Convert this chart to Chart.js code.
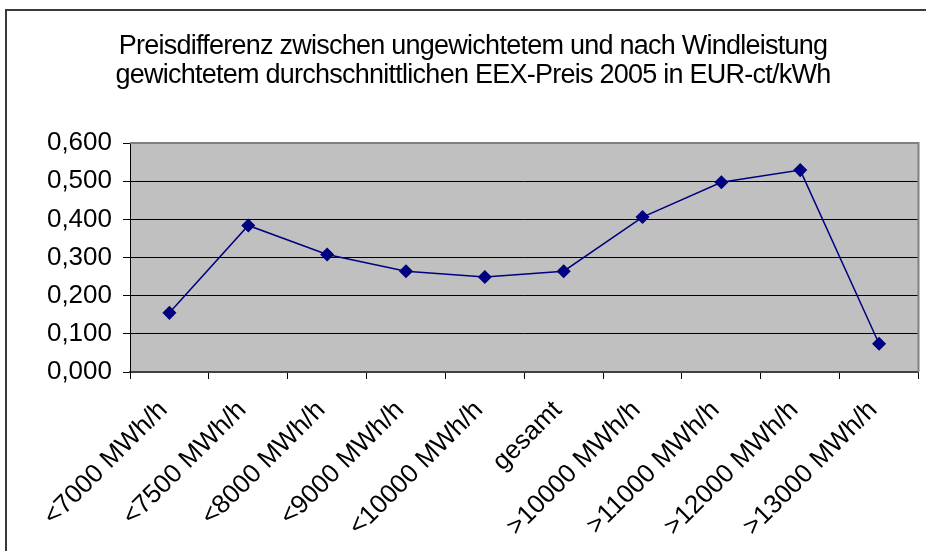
<!DOCTYPE html>
<html>
<head>
<meta charset="utf-8">
<title>EEX-Preisdifferenz 2005</title>
<script src="https://cdn.jsdelivr.net/npm/chart.js@4.4.0/dist/chart.umd.min.js"></script>
<style>
    html, body { margin: 0; padding: 0; background: #ffffff; }
    #wrap { width: 926px; height: 551px; position: relative; }
</style>
</head>
<body>
<div id="wrap"><canvas id="chart"></canvas></div>
<script>
// Chart data
const titleLines = [
    'Preisdifferenz zwischen ungewichtetem und nach Windleistung',
    'gewichtetem durchschnittlichen EEX-Preis 2005 in EUR-ct/kWh'
];
const categories = [
    '<7000 MWh/h', '<7500 MWh/h', '<8000 MWh/h', '<9000 MWh/h', '<10000 MWh/h',
    'gesamt', '>10000 MWh/h', '>11000 MWh/h', '>12000 MWh/h', '>13000 MWh/h'
];
const priceDiff = [0.155, 0.384, 0.308, 0.264, 0.249, 0.264, 0.406, 0.497, 0.529, 0.074];
const yTicks = [0, 0.1, 0.2, 0.3, 0.4, 0.5, 0.6];

const fontFamily = '"Liberation Sans", Arial, sans-serif';

// grey plot background, grey frame and the outer chart frame
const framePlugin = {
    id: 'frame',
    beforeDraw(chart) {
        const ctx = chart.ctx;
        const a = chart.chartArea;
        ctx.save();
        ctx.fillStyle = '#ffffff';
        ctx.fillRect(0, 0, chart.width, chart.height);
        ctx.fillStyle = '#c0c0c0';
        ctx.fillRect(a.left, a.top, a.right - a.left, a.bottom - a.top);
        ctx.restore();
    },
    beforeDatasetsDraw(chart) {
        const ctx = chart.ctx;
        const a = chart.chartArea;
        ctx.save();
        ctx.strokeStyle = '#808080';
        ctx.lineWidth = 2;
        ctx.beginPath();
        ctx.moveTo(a.left, a.top);
        ctx.lineTo(a.right, a.top);
        ctx.lineTo(a.right, a.bottom);
        ctx.stroke();
        // outer border of the whole chart object
        ctx.strokeStyle = '#3a3a3a';
        ctx.lineWidth = 2;
        ctx.strokeRect(6, 10, chart.width + 10, chart.height + 10);
        ctx.restore();
    }
};

// two line title, drawn a bit condensed like the original
const titlePlugin = {
    id: 'condensedTitle',
    afterDraw(chart) {
        const ctx = chart.ctx;
        ctx.save();
        ctx.font = '27px ' + fontFamily;
        ctx.fillStyle = '#000000';
        ctx.textAlign = 'center';
        ctx.textBaseline = 'alphabetic';
        if ('letterSpacing' in ctx) ctx.letterSpacing = '-0.75px';
        ctx.fillText(titleLines[0], 473, 54);
        ctx.fillText(titleLines[1], 473, 83);
        ctx.restore();
    }
};

const ctx = document.getElementById('chart').getContext('2d');
const chart = new Chart(ctx, {
    type: 'line',
    data: {
        labels: categories,
        datasets: [{
            label: 'Preisdifferenz',
            data: priceDiff,
            borderColor: '#000080',
            backgroundColor: '#000080',
            borderWidth: 1.5,
            pointStyle: 'rectRot',
            pointRadius: 6,
            pointHoverRadius: 6,
            pointBackgroundColor: '#000080',
            pointBorderColor: '#000080',
            tension: 0,
            fill: false
        }]
    },
    options: {
        responsive: true,
        maintainAspectRatio: false,
        animation: false,
        layout: {
            padding: { left: 0, right: 6, top: 143, bottom: 0 }
        },
        plugins: {
            legend: { display: false },
            tooltip: { enabled: false },
            title: { display: false }
        },
        scales: {
            x: {
                offset: true,
                grid: {
                    drawOnChartArea: false,
                    drawTicks: true,
                    tickLength: 7,
                    offset: true,
                    color: '#000000'
                },
                border: { display: true, color: '#404040', width: 2 },
                ticks: {
                    color: '#000000',
                    font: { family: fontFamily, size: 26 },
                    minRotation: 45,
                    maxRotation: 45,
                    autoSkip: false,
                    padding: 16,
                    labelOffset: -6
                },
                afterFit(scale) { scale.height = 179; }
            },
            y: {
                min: 0,
                max: 0.6,
                afterBuildTicks(scale) {
                    scale.ticks = yTicks.map(v => ({ value: v }));
                },
                grid: {
                    color: '#000000',
                    lineWidth: 1,
                    tickLength: 7,
                    drawTicks: true
                },
                border: { display: true, color: '#000000', width: 1 },
                ticks: {
                    color: '#000000',
                    font: { family: fontFamily, size: 26 },
                    padding: 11,
                    callback: function(value) {
                        return value.toFixed(3).replace('.', ',');
                    }
                },
                afterFit(scale) { scale.width = 130; }
            }
        }
    },
    plugins: [framePlugin, titlePlugin]
});
</script>
</body>
</html>
